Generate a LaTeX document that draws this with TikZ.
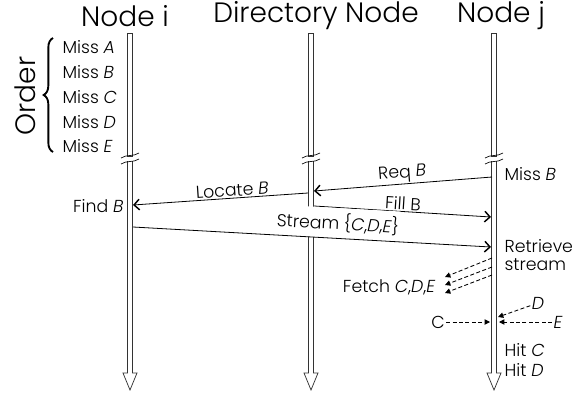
\documentclass[tikz,border=0pt]{standalone}
\usepackage{fontspec}
\setmainfont{Poppins}[UprightFont=* Light, ItalicFont=* Light Italic]
\usetikzlibrary{arrows.meta,decorations.pathreplacing}
\def\lifeline(#1){%
	\draw[lane] (#1-2.5,33) rectangle (#1+2.5,156);
	\draw[lane] (#1-2.5,161) -- (#1-2.5,373) -- (#1-7,373) -- (#1,390) -- (#1+7,373) -- (#1+2.5,373) -- (#1+2.5,161);
	\draw[line width=0.5pt] (#1-9,158) .. controls (#1-3,154) and (#1+3,157) .. (#1+9,153);
	\draw[line width=0.5pt] (#1-9,164) .. controls (#1-3,160) and (#1+3,163) .. (#1+9,159);}
\tikzset{
	lane/.style={line width=0.55pt, draw=black!80, fill=white},
	msg/.style={line width=0.6pt, -{Straight Barb[length=4pt,width=8pt,line width=1.1pt]}},
	fetch/.style={dash pattern=on 3pt off 1.8pt, line width=0.65pt, -{Triangle[length=4pt,width=4pt]}},
	lbl/.style={font=\fontsize{13}{14}\selectfont, inner sep=1pt},
	head/.style={font=\fontsize{21}{24}\selectfont, inner sep=0pt},
}

\begin{document}
\begin{tikzpicture}[x=0.75pt, y=-0.75pt]
		%%%%% START %%%%%
		\useasboundingbox (0,0) rectangle (580,393);
		
		\node[head] (ni) at (125,16) {Node i};
		\node[head] (nd) at (316,16) {Directory Node};
		\node[head] (nj) at (501,16) {Node j};
		
		\lifeline(130)
		\lifeline(311)
		\lifeline(494)
		
		\node[head, rotate=90] (order) at (25,96) {Order};
		\draw[line width=1.4pt, decorate, decoration={brace, amplitude=7pt}] (53,152) -- (53,38);
		
		\node[lbl, anchor=west] (missA) at (61,47) {Miss \textit{A}};
		\node[lbl, anchor=west] (missB) at (61,72) {Miss \textit{B}};
		\node[lbl, anchor=west] (missC) at (61,97) {Miss \textit{C}};
		\node[lbl, anchor=west] (missD) at (61,122) {Miss \textit{D}};
		\node[lbl, anchor=west] (missE) at (61,146) {Miss \textit{E}};
		
		\coordinate (j-req) at (492,177);
		\coordinate (d-req) at (314,191);
		\coordinate (d-loc) at (308,193);
		\coordinate (i-loc) at (133,205);
		\coordinate (d-fill) at (314,206);
		\coordinate (j-fill) at (491,217);
		\coordinate (i-str) at (133,227);
		\coordinate (j-str) at (491,247);
		
		\node[lbl, anchor=west] (missj) at (503,174) {Miss \textit{B}};
		\draw[msg] (j-req) -- node[lbl, sloped, above] (req) {Req \textit{B}} (d-req);
		\draw[msg] (d-loc) -- node[lbl, sloped, above, pos=0.43] (loc) {Locate \textit{B}} (i-loc);
		\node[lbl, anchor=east] (find) at (125,206) {Find \textit{B}};
		\draw[msg] (d-fill) -- node[lbl, sloped, above] (fill) {Fill B} (j-fill);
		\path (i-str) -- node[lbl, sloped, above, pos=0.57, fill=white, inner ysep=4pt] (str) {Stream \{\textit{C},\textit{D},\textit{E}\}} (j-str);
		\draw[msg] (i-str) -- (j-str);
		
		\node[lbl, anchor=west, align=left] (retr) at (503,255) {Retrieve\\stream};
		
		\coordinate (j-f1) at (492,258);
		\coordinate (j-f2) at (492,267);
		\coordinate (j-f3) at (492,275);
		\coordinate (f1) at (445,277);
		\coordinate (f2) at (445,285);
		\coordinate (f3) at (445,293);
		\draw[fetch] (j-f1) -- (f1);
		\draw[fetch] (j-f2) -- (f2);
		\draw[fetch] (j-f3) -- (f3);
		\node[lbl, anchor=east] (fetchlbl) at (437,287) {Fetch \textit{C},\textit{D},\textit{E}};
		
		\node[lbl] (c) at (438,322) {C};
		\node[lbl] (d) at (538,303) {\textit{D}};
		\node[lbl] (e) at (558,322) {\textit{E}};
		\coordinate (j-c) at (490,322);
		\coordinate (j-d) at (498,317);
		\coordinate (j-e) at (499,322);
		\draw[fetch] (c) -- (j-c);
		\draw[fetch] (d) -- (j-d);
		\draw[fetch] (e) -- (j-e);
		
		\node[lbl, anchor=west] (hitc) at (503,350) {Hit \textit{C}};
		\node[lbl, anchor=west] (hitd) at (503,370) {Hit \textit{D}};
		
		%%%%% END %%%%%
\end{tikzpicture}
\end{document}
